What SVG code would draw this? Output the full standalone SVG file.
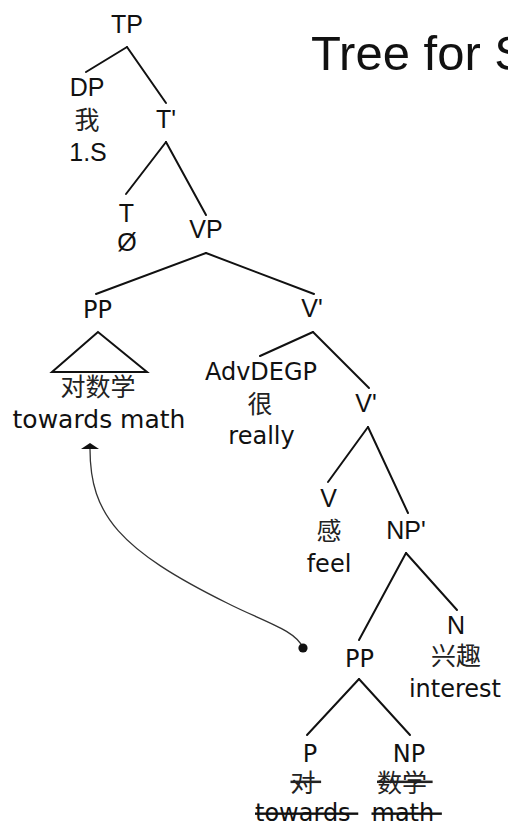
<svg xmlns="http://www.w3.org/2000/svg" width="508" height="826" viewBox="0 0 508 826">
<style>
  .h { font-family: "Liberation Sans", Arial, sans-serif; font-size: 25px; fill: #111; text-anchor: middle; }
  .l { font-family: "DejaVu Sans", "Liberation Sans", sans-serif; font-size: 24px; fill: #111; text-anchor: middle; }
  .c { font-family: "Noto Sans CJK SC", "Noto Sans", sans-serif; font-size: 25px; fill: #222; text-anchor: middle; }
  .s { text-anchor: start; text-decoration: line-through; }
  .title { font-family: "Liberation Sans", Arial, sans-serif; font-size: 49px; fill: #111; }
  .edge { stroke: #111; stroke-width: 2; fill: none; stroke-linecap: round; }
  .move { stroke: #333; stroke-width: 1.3; fill: none; }
</style>
<defs>
  <marker id="arrow" viewBox="0 0 6 18" refX="0" refY="9" markerWidth="6" markerHeight="18" markerUnits="userSpaceOnUse" orient="auto-start-reverse">
    <path d="M0,0 L6,9 L0,18 z" fill="#111"/>
  </marker>
  <marker id="dot" viewBox="0 0 10 10" refX="5" refY="5" markerWidth="10" markerHeight="10" markerUnits="userSpaceOnUse">
    <circle cx="5" cy="5" r="4.6" fill="#111"/>
  </marker>
</defs>
<rect width="508" height="826" fill="#fff"/>
<text id="title" class="title" x="311" y="70">Tree for S</text>
<g id="connectors">
  <line class="edge" x1="127" y1="47" x2="86" y2="72"/>
  <line class="edge" x1="127" y1="47" x2="166" y2="103"/>
  <line class="edge" x1="166" y1="142" x2="126" y2="194"/>
  <line class="edge" x1="166" y1="142" x2="206" y2="215"/>
  <line class="edge" x1="206" y1="253" x2="96" y2="294"/>
  <line class="edge" x1="206" y1="253" x2="314" y2="294"/>
  <line class="edge" x1="313" y1="332" x2="260" y2="356"/>
  <line class="edge" x1="313" y1="332" x2="369" y2="388"/>
  <line class="edge" x1="368" y1="427" x2="328" y2="482"/>
  <line class="edge" x1="368" y1="427" x2="408" y2="513"/>
  <line class="edge" x1="406" y1="553" x2="359" y2="640"/>
  <line class="edge" x1="406" y1="553" x2="457" y2="610"/>
  <line class="edge" x1="359" y1="679" x2="307" y2="735"/>
  <line class="edge" x1="359" y1="679" x2="410" y2="735"/>
  <path class="move" d="M90,449 C90,515 120,550 227,603 C262,621 296,630 303,648" marker-start="url(#arrow)" marker-end="url(#dot)"/>
</g>
<g id="TP"><text class="h" x="127" y="33">TP</text></g>
<g id="DP">
  <text class="h" x="87" y="96">DP</text>
  <text class="c" x="87" y="128.5">我</text>
  <text class="h" x="88" y="160.5">1.S</text>
</g>
<g id="Tbar"><text class="h" x="166" y="127.5">T'</text></g>
<g id="T">
  <text class="h" x="126.5" y="222">T</text>
  <text class="h" x="127" y="251">Ø</text>
</g>
<g id="VP"><text class="h" x="206" y="238">VP</text></g>
<g id="PP1">
  <text class="l" x="97.5" y="318">PP</text>
  <polygon class="edge" points="98,332 52,372 147,372" stroke-linejoin="miter"/>
  <text class="c" x="98" y="396">对数学</text>
  <text class="l" x="99" y="428" style="font-size:25px">towards math</text>
</g>
<g id="Vbar1"><text class="h" x="312" y="317">V'</text></g>
<g id="AdvDEGP">
  <text class="l" x="261" y="380">AdvDEGP</text>
  <text class="c" x="260" y="413">很</text>
  <text class="l" x="261.5" y="444">really</text>
</g>
<g id="Vbar2"><text class="h" x="366" y="411.5">V'</text></g>
<g id="V">
  <text class="h" x="328.5" y="506.5">V</text>
  <text class="c" x="329" y="540">感</text>
  <text class="l" x="329" y="571.5">feel</text>
</g>
<g id="NPbar"><text class="h" x="406" y="539">NP'</text></g>
<g id="N">
  <text class="h" x="456" y="634">N</text>
  <text class="c" x="456" y="665">兴趣</text>
  <text class="l" x="455" y="697">interest</text>
</g>
<g id="PP2"><text class="l" x="359.5" y="666.5">PP</text></g>
<g id="P">
  <text class="l" x="310" y="761.5">P</text>
  <text class="c s" x="290.5" y="791.5">对&#160;</text>
  <text class="l s" x="255" y="821">towards&#160;</text>
</g>
<g id="NP">
  <text class="l" x="409" y="761.5">NP</text>
  <text class="c s" x="377" y="791.5">数学&#160;</text>
  <text class="l s" x="371.5" y="821">math&#160;</text>
</g>
</svg>
